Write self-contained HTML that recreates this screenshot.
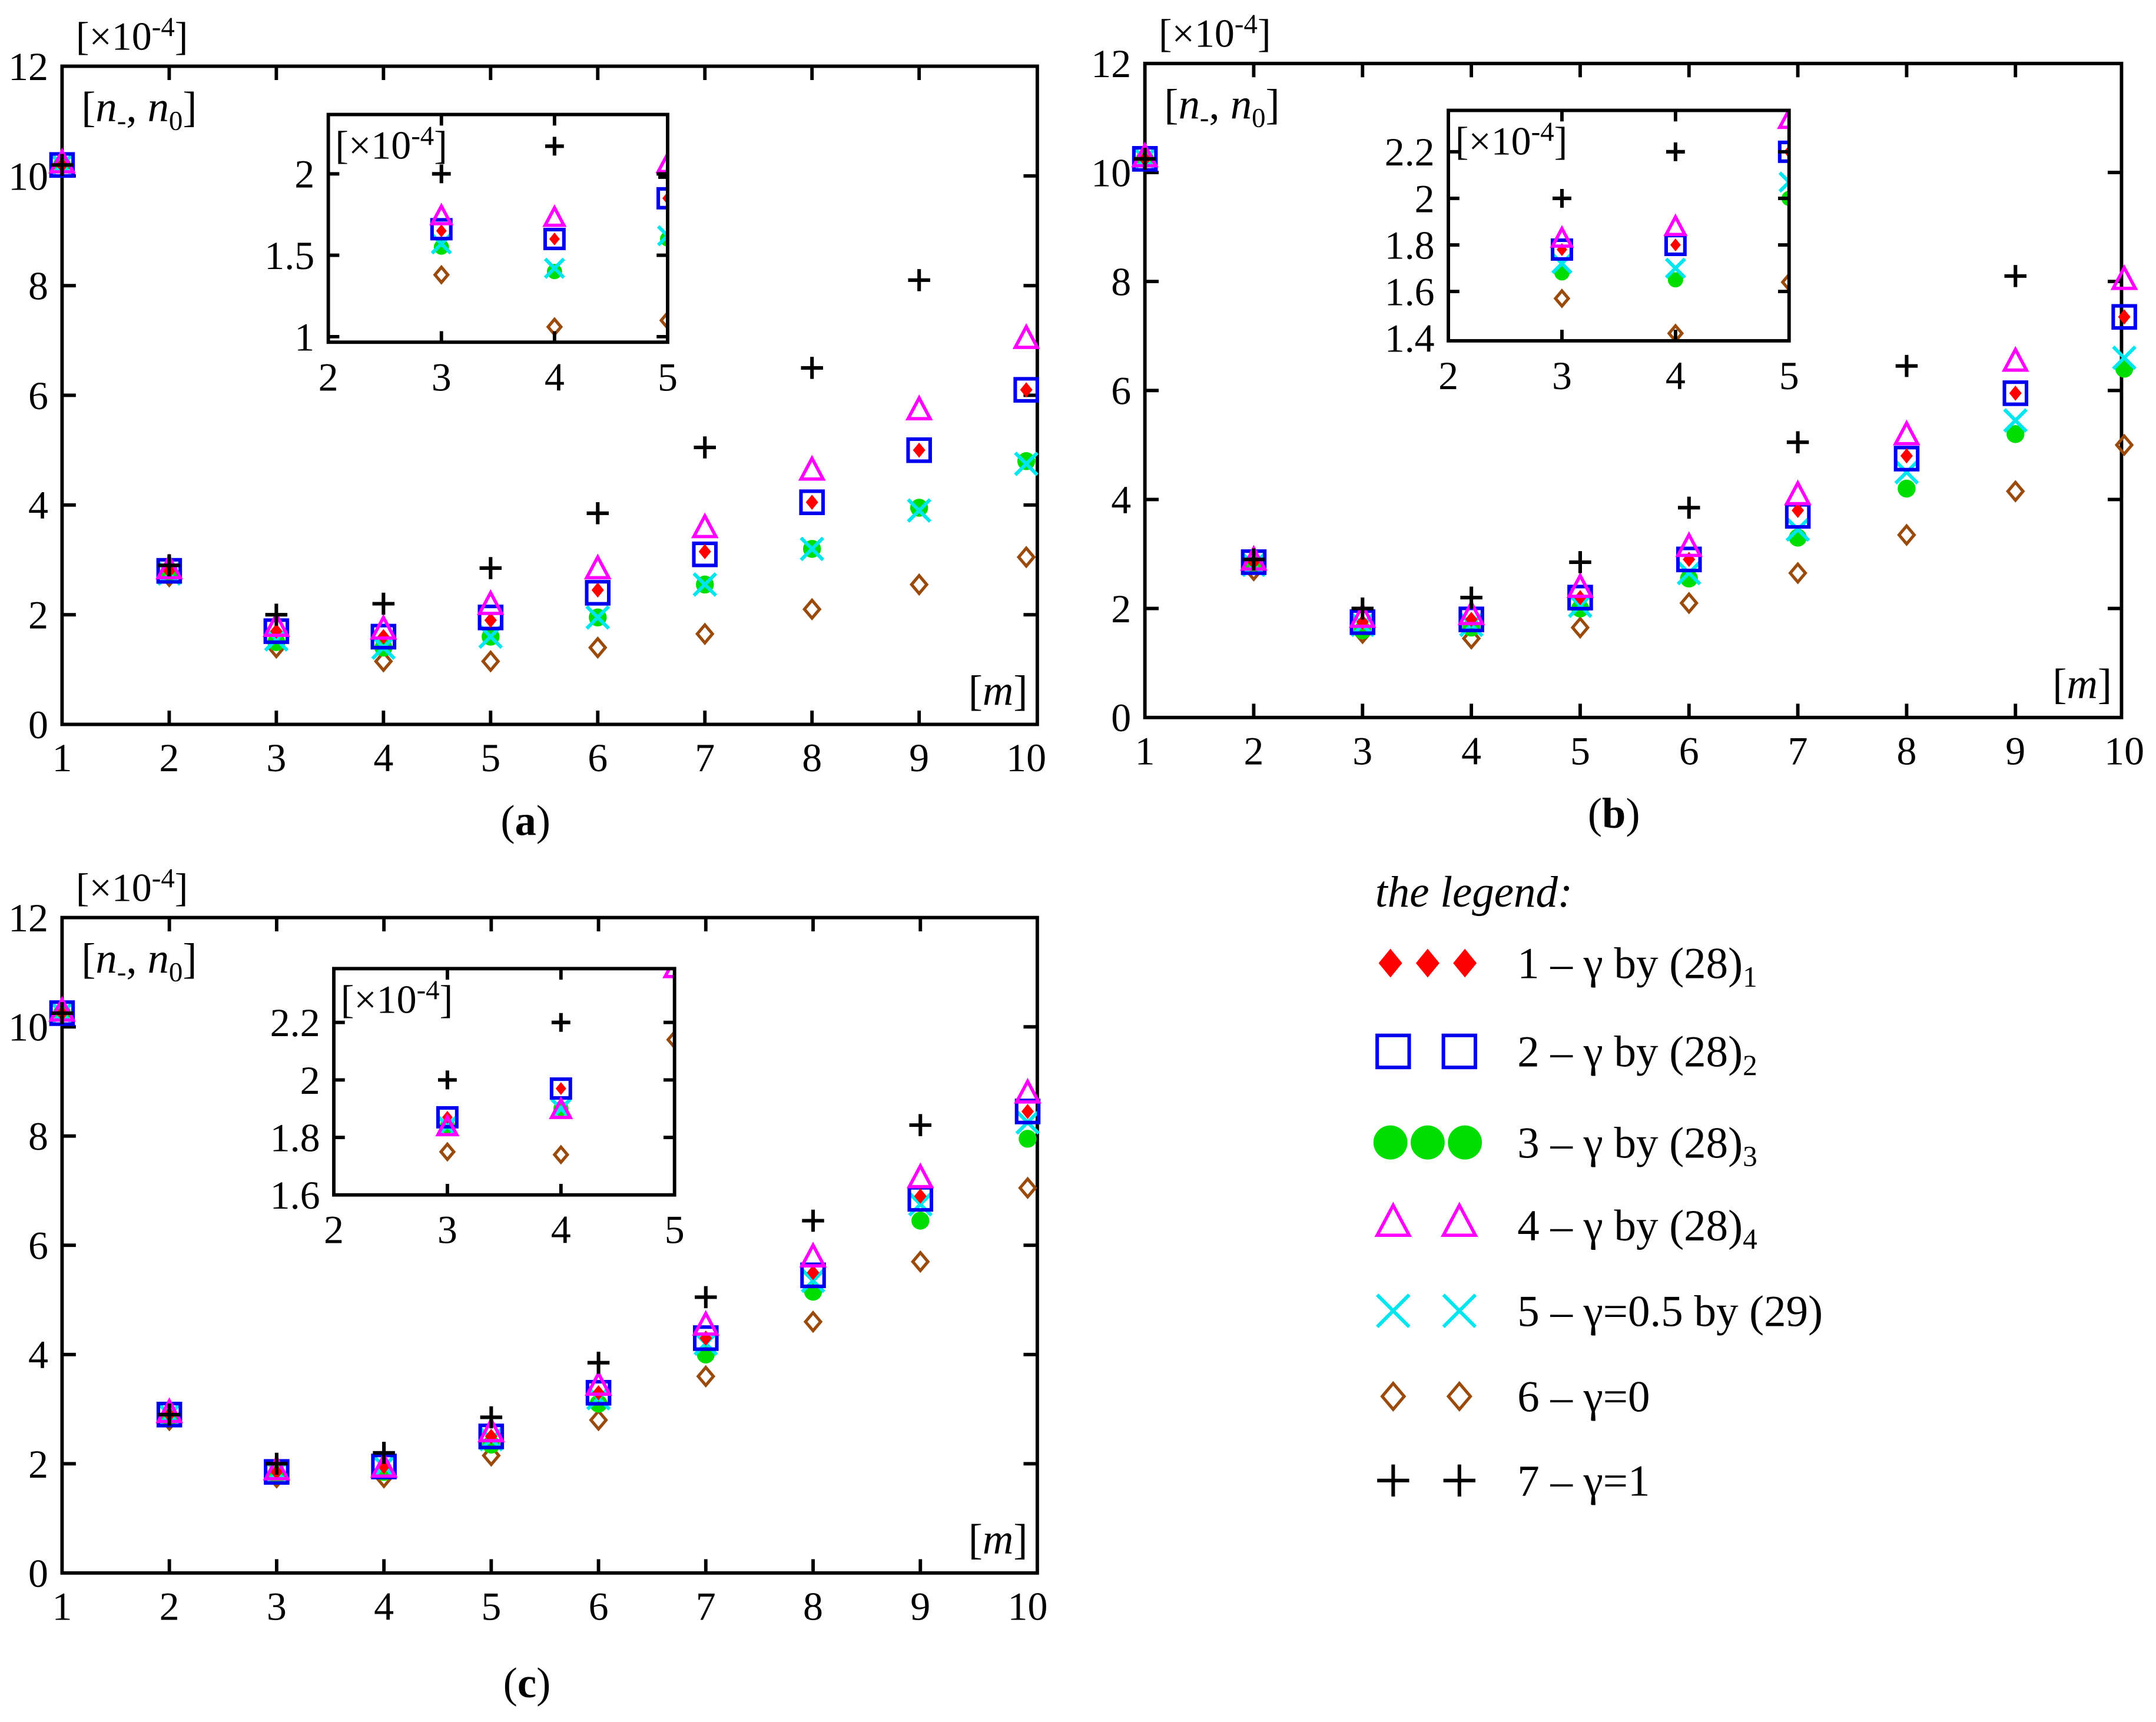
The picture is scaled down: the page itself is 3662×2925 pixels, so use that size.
<!DOCTYPE html>
<html><head><meta charset="utf-8"><style>
html,body{margin:0;padding:0;background:#fff}
svg{display:block}
svg text{font-family:"Liberation Serif","Times New Roman",serif}
</style></head><body>
<svg id="chart" width="3662" height="2925" viewBox="0 0 1563 1248" preserveAspectRatio="none" font-family="Liberation Serif, serif" xmlns="http://www.w3.org/2000/svg">
<defs>
<clipPath id="clipA"><rect x="238" y="83" width="246" height="165"/></clipPath>
<clipPath id="clipB"><rect x="1050" y="80" width="247" height="167"/></clipPath>
<clipPath id="clipC"><rect x="242" y="702" width="247" height="164"/></clipPath>
</defs>
</svg>
<script>
// ---------- DATA ----------
const mCats = [1,2,3,4,5,6,7,8,9,10];
const insetCats = [3,4,5];
const mainYTicks = [0,2,4,6,8,10,12];
const mainXTicks = [1,2,3,4,5,6,7,8,9,10];
const seriesNames = ['red','blue','green','magenta','cyan','brown','plus'];
// panel (a)
const aRed   = [10.2,2.8,1.7,1.6,1.9,2.45,3.15,4.05,5.0,6.1];
const aBlue  = [10.2,2.8,1.7,1.6,1.95,2.4,3.1,4.05,5.0,6.1];
const aGreen = [10.2,2.75,1.5,1.4,1.6,1.95,2.55,3.2,3.95,4.8];
const aMag   = [10.2,2.8,1.75,1.7,2.15,2.8,3.55,4.6,5.7,7.0];
const aCyan  = [10.2,2.75,1.55,1.4,1.6,1.95,2.55,3.2,3.9,4.75];
const aBrown = [10.2,2.7,1.4,1.15,1.15,1.4,1.65,2.1,2.55,3.05];
const aPlus  = [10.2,2.9,2.0,2.2,2.85,3.85,5.05,6.5,8.1,null];
const aInRed=[1.65,1.6,1.85], aInBlue=[1.66,1.6,1.85], aInGreen=[1.55,1.4,1.6], aInMag=[1.73,1.72,2.05], aInCyan=[1.57,1.42,1.62], aInBrown=[1.38,1.06,1.1], aInPlus=[2.0,2.17,1.98];
const aInTicks=[1,1.5,2];
// panel (b)
const bRed   = [10.25,2.85,1.75,1.8,2.2,2.9,3.8,4.8,5.95,7.35];
const bBlue  = [10.25,2.85,1.75,1.8,2.2,2.9,3.7,4.75,5.95,7.35];
const bGreen = [10.25,2.8,1.6,1.65,2.0,2.55,3.3,4.2,5.2,6.4];
const bMag   = [10.25,2.85,1.8,1.85,2.35,3.1,4.05,5.15,6.5,8.0];
const bCyan  = [10.25,2.8,1.7,1.7,2.05,2.65,3.45,4.5,5.45,6.6];
const bBrown = [10.25,2.7,1.55,1.45,1.65,2.1,2.65,3.35,4.15,5.0];
const bPlus  = [10.25,2.9,2.0,2.2,2.85,3.85,5.05,6.45,8.1,null];
const bInRed=[1.78,1.8,2.2], bInBlue=[1.78,1.8,2.2], bInGreen=[1.68,1.65,2.0], bInMag=[1.82,1.87,2.33], bInCyan=[1.72,1.7,2.07], bInBrown=[1.57,1.42,1.64], bInPlus=[2.0,2.2,null];
const bInTicks=[1.4,1.6,1.8,2,2.2];
// panel (c)
const cRed   = [10.25,2.9,1.85,1.95,2.5,3.3,4.3,5.5,6.9,8.45];
const cBlue  = [10.25,2.9,1.85,1.95,2.5,3.3,4.3,5.45,6.85,8.45];
const cGreen = [10.25,2.85,1.8,1.85,2.35,3.1,4.0,5.15,6.45,7.95];
const cMag   = [10.25,2.9,1.85,1.9,2.55,3.4,4.5,5.75,7.2,8.75];
const cCyan  = [10.25,2.9,1.85,1.95,2.45,3.2,4.2,5.35,6.75,8.25];
const cBrown = [10.25,2.8,1.75,1.75,2.15,2.8,3.6,4.6,5.7,7.05];
const cPlus  = [10.25,2.9,2.0,2.2,2.85,3.85,5.05,6.45,8.2,null];
const cInRed=[1.87,1.97,2.5], cInBlue=[1.87,1.97,2.5], cInGreen=[1.84,1.9,2.45], cInMag=[1.83,1.89,2.38], cInCyan=[1.84,1.9,2.45], cInBrown=[1.75,1.74,2.14], cInPlus=[2.0,2.2,null];
const cInTicks=[1.6,1.8,2,2.2];

const NS='http://www.w3.org/2000/svg';
const FONT='Liberation Serif, serif';
const svg=document.getElementById('chart');
function mk(tag,attrs,parent){const e=document.createElementNS(NS,tag);for(const k in attrs)e.setAttribute(k,attrs[k]);if(tag==='text')e.setAttribute('font-family',FONT);(parent||svg).appendChild(e);return e;}
const COLORS={red:'#ff0000',blue:'#0000ee',green:'#00dd00',magenta:'#ff00ff',cyan:'#00e5ee',brown:'#9a4a0a',plus:'#000'};

function marker(type,x,y,g,s){
  s=s||1;let e;
  if(type==='red'){e=mk('path',{d:`M${x} ${y-5.5*s}L${x+4.5*s} ${y}L${x} ${y+5.5*s}L${x-4.5*s} ${y}Z`,fill:COLORS.red},g);}
  else if(type==='blue'){e=mk('rect',{x:x-8*s,y:y-8*s,width:16*s,height:16*s,fill:'none',stroke:COLORS.blue,'stroke-width':2.6},g);}
  else if(type==='green'){e=mk('circle',{cx:x,cy:y,r:6.5*s,fill:COLORS.green},g);}
  else if(type==='magenta'){e=mk('path',{d:`M${x} ${y-10*s}L${x+8*s} ${y+5*s}L${x-8*s} ${y+5*s}Z`,fill:'none',stroke:COLORS.magenta,'stroke-width':2.4},g);}
  else if(type==='cyan'){e=mk('path',{d:`M${x-8*s} ${y-8*s}L${x+8*s} ${y+8*s}M${x+8*s} ${y-8*s}L${x-8*s} ${y+8*s}`,stroke:COLORS.cyan,'stroke-width':2.6,fill:'none'},g);}
  else if(type==='brown'){e=mk('path',{d:`M${x} ${y-6.5*s}L${x+5.5*s} ${y}L${x} ${y+6.5*s}L${x-5.5*s} ${y}Z`,fill:'none',stroke:COLORS.brown,'stroke-width':2.2},g);}
  else {e=mk('path',{d:`M${x-8*s} ${y}L${x+8*s} ${y}M${x} ${y-8*s}L${x} ${y+8*s}`,stroke:'#000','stroke-width':2.6,fill:'none'},g);}
  return e;
}
const drawOrder=['brown','green','cyan','blue','red','magenta','plus'];

function panel(P){
  const g=mk('g',{});
  
  
  const X=m=>P.x0+(m-1)*(P.x1-P.x0)/9;
  const Y=v=>P.y0-v*(P.y0-P.y12)/12;
  const box=mk('rect',{x:P.x0,y:P.y12,width:P.bx-P.x0,height:P.y0-P.y12,fill:'none',stroke:'#000','stroke-width':2.5},g);
  
  
  mainYTicks.forEach(v=>{
    if(v>0&&v<12){mk('line',{x1:P.x0,x2:P.x0+10,y1:Y(v),y2:Y(v),stroke:'#000','stroke-width':2.5},g);mk('line',{x1:P.bx,x2:P.bx-10,y1:Y(v),y2:Y(v),stroke:'#000','stroke-width':2.5},g);}
    const t=mk('text',{x:P.x0-10,y:Y(v)+10,'text-anchor':'end','font-size':29},g);t.textContent=v;
    
    
  });
  mainXTicks.forEach(m=>{
    if(m>1&&m<10){mk('line',{x1:X(m),x2:X(m),y1:P.y0,y2:P.y0-10,stroke:'#000','stroke-width':2.5},g);mk('line',{x1:X(m),x2:X(m),y1:P.y12,y2:P.y12+10,stroke:'#000','stroke-width':2.5},g);}
    const t=mk('text',{x:X(m),y:P.y0+34,'text-anchor':'middle','font-size':29},g);t.textContent=m;
    
    
  });
  const sc=mk('text',{x:P.x0+10,y:P.y12-12,'font-size':29},g);
  sc.innerHTML='[×10<tspan dy="-10" font-size="20">-4</tspan><tspan dy="10">]</tspan>';
  
  
  const yl=mk('text',{x:P.x0+14,y:P.y12+40,'font-size':31},g);
  yl.innerHTML='[<tspan font-style="italic">n</tspan><tspan dy="6" font-size="20">-</tspan><tspan dy="-6">, </tspan><tspan font-style="italic">n</tspan><tspan dy="6" font-size="20">0</tspan><tspan dy="-6">]</tspan>';
  
  
  const xl=mk('text',{x:P.bx-50,y:P.y0-14,'font-size':31},g);
  xl.innerHTML='[<tspan font-style="italic">m</tspan>]';
  
  
  const cap=mk('text',{x:P.capX,y:P.capY,'text-anchor':'middle','font-size':31},g);
  cap.innerHTML='(<tspan font-weight="bold">'+P.id+'</tspan>)';
  
  
  drawOrder.forEach(s=>{
    const arr=P.series[seriesNames.indexOf(s)];
    mCats.forEach((m,i)=>{ if(arr[i]==null)return;
      const mkk=marker(s,X(m),Y(arr[i]),g);
      
      
    });
  });
  const I=P.inset;
  const ig=mk('g',{},g);
  
  
  mk('rect',{x:I.l,y:I.t,width:I.r-I.l,height:I.b-I.t,fill:'#fff'},ig);
  const IX=m=>I.l+(m-2)*(I.r-I.l)/3;
  const IY=v=>I.vy1-(v-I.v1)*(I.vy1-I.vy2)/(I.v2-I.v1);
  const pg=mk('g',{'clip-path':'url(#'+I.clip+')'},ig);
  drawOrder.forEach(s=>{
    const arr=I.series[seriesNames.indexOf(s)];
    insetCats.forEach((m,i)=>{ if(arr[i]==null)return;
      const mkk=marker(s,IX(m),IY(arr[i]),pg,0.85);
      
      
    });
  });
  mk('rect',{x:I.l,y:I.t,width:I.r-I.l,height:I.b-I.t,fill:'none',stroke:'#000','stroke-width':2.5},ig);
  I.ticks.forEach(v=>{
    const y=IY(v);
    if(y>I.t+2&&y<I.b-2){mk('line',{x1:I.l,x2:I.l+8,y1:y,y2:y,stroke:'#000','stroke-width':2.5},ig);mk('line',{x1:I.r,x2:I.r-8,y1:y,y2:y,stroke:'#000','stroke-width':2.5},ig);}
    const t=mk('text',{x:I.l-10,y:y+10,'text-anchor':'end','font-size':29},ig);t.textContent=v;
    
    
  });
  [2,3,4,5].forEach(m=>{
    if(m>2&&m<5){mk('line',{x1:IX(m),x2:IX(m),y1:I.b,y2:I.b-8,stroke:'#000','stroke-width':2.5},ig);mk('line',{x1:IX(m),x2:IX(m),y1:I.t,y2:I.t+8,stroke:'#000','stroke-width':2.5},ig);}
    const t=mk('text',{x:IX(m),y:I.b+35,'text-anchor':'middle','font-size':29},ig);t.textContent=m;
    
    
  });
  const is=mk('text',{x:I.l+5,y:I.t+32,'font-size':29},ig);
  is.innerHTML='[×10<tspan dy="-10" font-size="20">-4</tspan><tspan dy="10">]</tspan>';
  
  
}

panel({id:'a',x0:45,x1:744,bx:752,y0:525,y12:48,capX:381,capY:605,
  series:[aRed,aBlue,aGreen,aMag,aCyan,aBrown,aPlus],
  inset:{l:238,r:484,t:83,b:248,clip:'clipA',v1:1,vy1:244,v2:2,vy2:126,ticks:aInTicks,
    series:[aInRed,aInBlue,aInGreen,aInMag,aInCyan,aInBrown,aInPlus]}});
panel({id:'b',x0:830,x1:1540,bx:1538,y0:520,y12:46,capX:1170,capY:600,
  series:[bRed,bBlue,bGreen,bMag,bCyan,bBrown,bPlus],
  inset:{l:1050,r:1297,t:80,b:247,clip:'clipB',v1:1.4,vy1:245,v2:2.2,vy2:110,ticks:bInTicks,
    series:[bInRed,bInBlue,bInGreen,bInMag,bInCyan,bInBrown,bInPlus]}});
panel({id:'c',x0:45,x1:745,bx:752,y0:1140,y12:665,capX:382,capY:1230,
  series:[cRed,cBlue,cGreen,cMag,cCyan,cBrown,cPlus],
  inset:{l:242,r:489,t:702,b:866,clip:'clipC',v1:1.6,vy1:866,v2:2.2,vy2:741,ticks:cInTicks,
    series:[cInRed,cInBlue,cInGreen,cInMag,cInCyan,cInBrown,cInPlus]}});

const legendLabels=['1 – γ by (28)<tspan dy="6" font-size="21">1</tspan>','2 – γ by (28)<tspan dy="6" font-size="21">2</tspan>','3 – γ by (28)<tspan dy="6" font-size="21">3</tspan>','4 – γ by (28)<tspan dy="6" font-size="21">4</tspan>','5 – γ=0.5 by (29)','6 – γ=0','7 – γ=1'];
const legendY=[698,762,828,888,950,1012,1073];
const lg=mk('g',{});


const lt=mk('text',{x:997,y:657,'font-size':32,'font-style':'italic'},lg);lt.textContent='the legend:';


seriesNames.forEach((s,i)=>{
  const eg=mk('g',{},lg);
  
  
  const y=legendY[i];
  const xs=(s==='red'||s==='green')?[1008,1035,1062]:[1010,1058];
  const sz=(s==='red'||s==='green')?1.9:1.45;
  xs.forEach(x=>marker(s,x,y,eg,sz));
  const t=mk('text',{x:1100,y:y+11,'font-size':32},eg);t.innerHTML=legendLabels[i];
});
</script>
</body></html>
